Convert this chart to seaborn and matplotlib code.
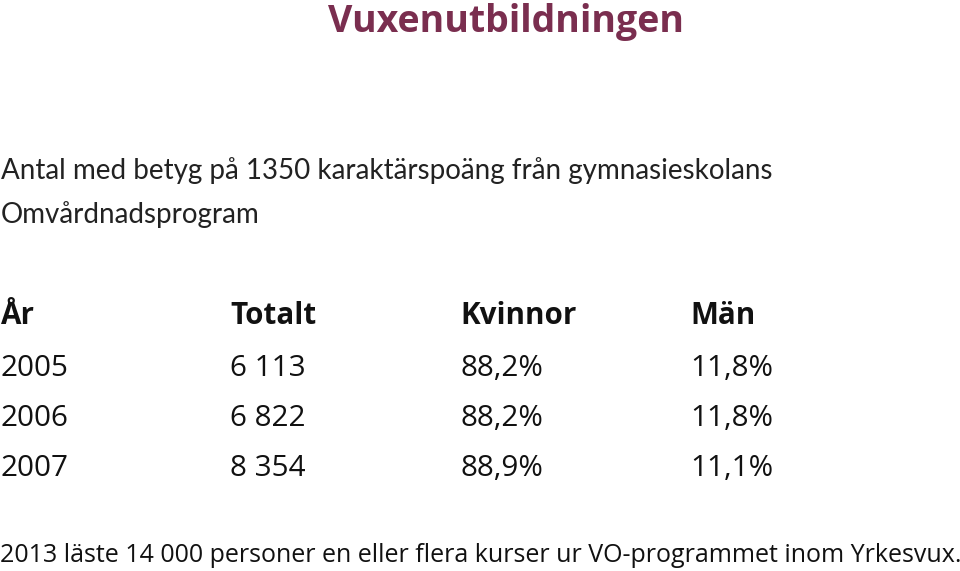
import matplotlib.pyplot as plt
import seaborn as sns

sns.set_theme(style="white")

# Data
title = "Vuxenutbildningen"
subtitle = ["Antal med betyg på 1350 karaktärspoäng från gymnasieskolans",
            "Omvårdnadsprogram"]
headers = ["År", "Totalt", "Kvinnor", "Män"]
years = ["2005", "2006", "2007"]
totals = ["6 113", "6 822", "8 354"]
women = ["88,2%", "88,2%", "88,9%"]
men = ["11,8%", "11,8%", "11,1%"]
footer = "2013 läste 14 000 personer en eller flera kurser ur VO-programmet inom Yrkesvux."

fig = plt.figure(figsize=(9.6, 5.71), dpi=100)
ax = fig.add_axes([0, 0, 1, 1])
ax.set_xlim(0, 960)
ax.set_ylim(571, 0)
ax.axis("off")

font = "Lato"
ax.text(506, 22, title, ha="center", va="center", fontsize=27, fontweight="bold",
        color="#7a2e4f", family="Open Sans")
for i, line in enumerate(subtitle):
    ax.text(1, 171 + i * 44, line, va="center", fontsize=20, color="#222222", family=font)

cols = [1, 230, 460, 690]
for x, h in zip(cols, headers):
    ax.text(x, 316, h, va="center", fontsize=21.3, fontweight="bold", color="#111111", family="Open Sans")
rows_y = [368, 418, 468]
for y, row in zip(rows_y, zip(years, totals, women, men)):
    for x, v in zip(cols, row):
        ax.text(x, y, v, va="center", fontsize=21.3, color="#111111", family="Open Sans")

ax.text(0, 556, footer, va="center", fontsize=18, color="#111111", family="Open Sans")

fig.savefig("out.png", dpi=100)
